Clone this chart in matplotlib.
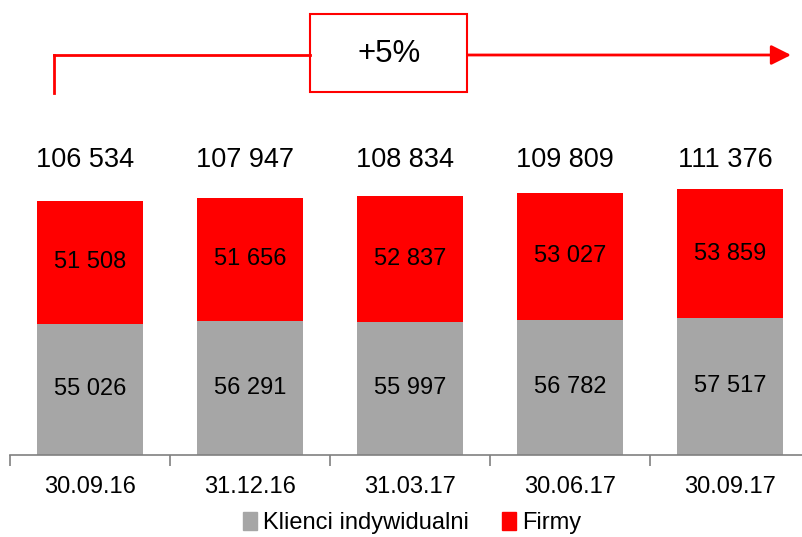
import matplotlib
matplotlib.use("Agg")
import matplotlib.pyplot as plt
from matplotlib.patches import Rectangle, FancyArrowPatch
from matplotlib.lines import Line2D

plt.rcParams['font.family'] = ['Liberation Sans', 'DejaVu Sans']

categories = ["30.09.16", "31.12.16", "31.03.17", "30.06.17", "30.09.17"]
klienci = [55026, 56291, 55997, 56782, 57517]
firmy = [51508, 51656, 52837, 53027, 53859]
totals = [106534, 107947, 108834, 109809, 111376]
growth_label = "+5%"
series_names = ["Klienci indywidualni", "Firmy"]

GRAY = "#A6A6A6"
RED = "#FF0000"

W, H = 802, 537
fig = plt.figure(figsize=(W / 100, H / 100), dpi=100)

def fx(px):
    return px / W

def fy(py):
    return 1 - py / H

PX_PER_UNIT = 2.384 / 1000
ax = fig.add_axes([fx(10), fy(455), 800 / W, 455 / H])

def fmt(v):
    return f"{v:,}".replace(",", " ")

x = list(range(len(categories)))
ax.bar(x, klienci, width=0.66, color=GRAY)
ax.bar(x, firmy, width=0.66, bottom=klienci, color=RED)

total_y = (455 - 160) / PX_PER_UNIT
for i in x:
    ax.text(i, klienci[i] / 2, fmt(klienci[i]), ha="center", va="center", fontsize=17)
    ax.text(i, klienci[i] + firmy[i] / 2, fmt(firmy[i]), ha="center", va="center", fontsize=17)
    ax.text(i - 0.03, total_y, fmt(totals[i]), ha="center", va="center", fontsize=19.5)

ax.set_xlim(-0.5, len(categories) - 0.5)
ax.set_ylim(0, 455 / PX_PER_UNIT)
for s in ["top", "right", "left"]:
    ax.spines[s].set_visible(False)
ax.spines["bottom"].set_color("#808080")
ax.spines["bottom"].set_linewidth(1.2)
ax.set_yticks([])
ax.set_xticks(x)
ax.set_xticklabels(categories, fontsize=17)
ax.tick_params(axis="x", which="major", length=0, pad=15)
ax.set_xticks([i - 0.5 for i in range(len(categories) + 1)], minor=True)
ax.tick_params(axis="x", which="minor", length=8, width=1.2, color="#808080", direction="out")

# growth arrow
lw = 2
fig.add_artist(Line2D([fx(54), fx(54)], [fy(93), fy(55)], color=RED, lw=lw, transform=fig.transFigure))
fig.add_artist(Line2D([fx(54), fx(310)], [fy(55), fy(55)], color=RED, lw=lw, transform=fig.transFigure))
fig.add_artist(FancyArrowPatch((fx(467), fy(55)), (fx(791), fy(55)), transform=fig.transFigure,
                               arrowstyle="-|>,head_length=12,head_width=6", color=RED, lw=lw,
                               shrinkA=0, shrinkB=0, mutation_scale=1))
fig.add_artist(Rectangle((fx(310), fy(92)), fx(467) - fx(310), fy(14) - fy(92), transform=fig.transFigure,
                         facecolor="white", edgecolor=RED, lw=1.5))
fig.text(fx(389), fy(54), growth_label, ha="center", va="center", fontsize=22.5)

handles = [Rectangle((0, 0), 1, 1, color=GRAY), Rectangle((0, 0), 1, 1, color=RED)]
fig.legend(handles, series_names, loc="center", bbox_to_anchor=(fx(412), fy(523)), ncol=2,
           frameon=False, fontsize=17, handlelength=0.6, handleheight=0.8, handletextpad=0.25,
           columnspacing=1.4, borderpad=0)

fig.savefig("out.png", dpi=100)
